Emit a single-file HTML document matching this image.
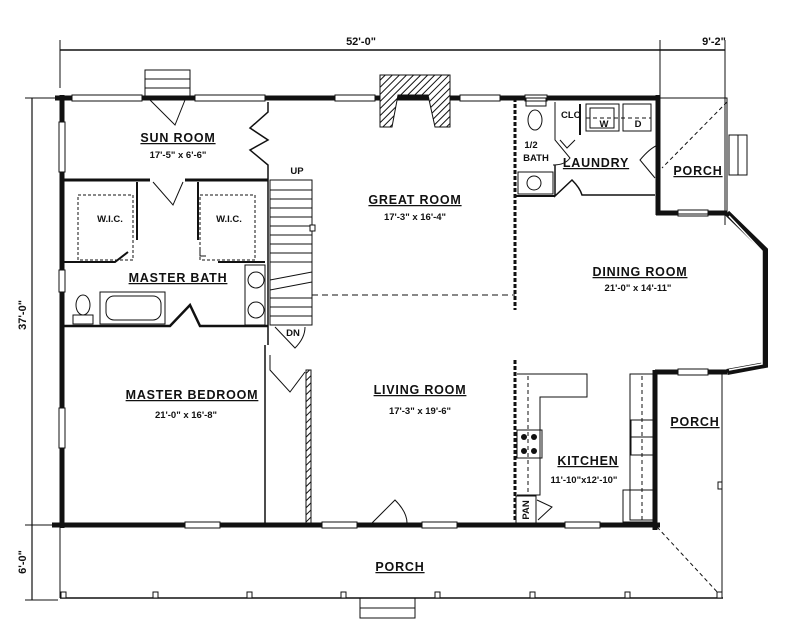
<!DOCTYPE html>
<html><head><meta charset="utf-8"><style>
html,body{margin:0;padding:0;background:#fff;width:787px;height:630px;overflow:hidden}
svg{display:block}
text{font-family:"Liberation Sans",sans-serif;fill:#111}
.t{font-size:12.5px;letter-spacing:0.8px;text-decoration:underline;font-weight:bold}
.d{font-size:9.5px;font-weight:bold}
.D{font-size:11px;font-weight:bold}
</style></head><body>
<svg width="787" height="630" viewBox="0 0 787 630" xmlns="http://www.w3.org/2000/svg">
<defs>
<pattern id="h" width="5" height="5" patternUnits="userSpaceOnUse" patternTransform="rotate(45)"><rect width="5" height="5" fill="#fff"/><line x1="0" y1="0" x2="0" y2="5" stroke="#111" stroke-width="2"/></pattern>
</defs>
<g stroke="#111" fill="none" stroke-width="1">
<line x1="60" y1="50" x2="725" y2="50" stroke-width="1.5"/>
<line x1="60" y1="40" x2="60" y2="88"/>
<line x1="660" y1="40" x2="660" y2="95"/>
<line x1="725" y1="40" x2="725" y2="225"/>
<line x1="32" y1="98" x2="32" y2="600" stroke-width="1.2"/>
<line x1="25" y1="98" x2="58" y2="98"/>
<line x1="25" y1="525" x2="55" y2="525"/>
<line x1="25" y1="600" x2="58" y2="600"/>
<g stroke-width="5">
<line x1="55" y1="98" x2="660" y2="98"/>
<line x1="62" y1="95" x2="62" y2="528"/>
<line x1="52" y1="525" x2="660" y2="525"/>
<line x1="658" y1="95" x2="658" y2="215"/>
<line x1="656" y1="213" x2="727" y2="213"/>
<line x1="655" y1="372" x2="727" y2="372"/>
<line x1="655" y1="370" x2="655" y2="530"/>
</g>
<g fill="#fff" stroke-width="1">
<rect x="72" y="95" width="70" height="6"/><rect x="195" y="95" width="70" height="6"/>
<rect x="335" y="95" width="40" height="6"/><rect x="460" y="95" width="40" height="6"/>
<rect x="525" y="95" width="22" height="6"/>
<rect x="59" y="122" width="6" height="50"/><rect x="59" y="270" width="6" height="22"/><rect x="59" y="408" width="6" height="40"/>
<rect x="185" y="522" width="35" height="6"/><rect x="322" y="522" width="35" height="6"/>
<rect x="422" y="522" width="35" height="6"/><rect x="565" y="522" width="35" height="6"/>
<rect x="678" y="210" width="30" height="6"/><rect x="678" y="369" width="30" height="6"/>
</g>
<polyline points="727,213 765,250 765,365 727,372" stroke-width="6"/>
<polyline points="729,216 762,251 762,364 729,370" stroke="#fff" stroke-width="1.5"/>
<rect x="658" y="98" width="69" height="116"/>
<line x1="727" y1="102" x2="662" y2="168" stroke-dasharray="4,3"/>
<rect x="729" y="135" width="18" height="40"/><line x1="738" y1="135" x2="738" y2="175"/>
<line x1="60" y1="525" x2="60" y2="598"/>
<line x1="60" y1="598" x2="723" y2="598" stroke-width="1.5"/>
<line x1="722" y1="372" x2="722" y2="598"/>
<line x1="657" y1="527" x2="720" y2="595" stroke-dasharray="4,3"/>
<g fill="#fff"><rect x="61" y="592" width="5" height="6"/><rect x="153" y="592" width="5" height="6"/><rect x="247" y="592" width="5" height="6"/><rect x="341" y="592" width="5" height="6"/><rect x="435" y="592" width="5" height="6"/><rect x="530" y="592" width="5" height="6"/><rect x="625" y="592" width="5" height="6"/><rect x="717" y="592" width="5" height="6"/><rect x="718" y="482" width="4" height="7"/></g>
<rect x="360" y="598" width="55" height="20"/><line x1="360" y1="608" x2="415" y2="608"/>
<rect x="145" y="70" width="45" height="27"/><line x1="145" y1="79" x2="190" y2="79"/><line x1="145" y1="88" x2="190" y2="88"/>
<path d="M380,75 H450 V127 H435 L428,95 H398 L392,127 H380 Z" fill="url(#h)"/>
<path d="M150,100 L175,125 L185,100" />
<path d="M268,102 V112 L250,128 L268,140 L250,150 L268,165 V345" stroke-width="1.5"/>
<line x1="265" y1="345" x2="265" y2="525" stroke-width="1.5"/>
<line x1="62" y1="180" x2="150" y2="180" stroke-width="3"/><line x1="185" y1="180" x2="268" y2="180" stroke-width="3"/>
<path d="M153,182 L173,205 L183,182"/>
<rect x="78" y="195" width="55" height="65" stroke-dasharray="3,2"/>
<rect x="200" y="195" width="55" height="65" stroke-dasharray="3,2"/>
<line x1="137" y1="182" x2="137" y2="240" stroke-width="2"/>
<line x1="198" y1="182" x2="198" y2="240" stroke-width="2"/>
<path d="M62,262 H115 L128,252" stroke-width="2"/>
<path d="M218,262 H265" stroke-width="2"/>
<path d="M200,250 V256 H206" />
<path d="M62,326 H170 L190,305 L200,326 H268" stroke-width="2.5"/>
<rect x="245" y="265" width="20" height="60"/>
<circle cx="256" cy="280" r="8"/><circle cx="256" cy="310" r="8"/>
<rect x="100" y="292" width="65" height="32"/><rect x="106" y="296" width="55" height="24" rx="8"/>
<ellipse cx="83" cy="305" rx="7" ry="10"/><rect x="73" y="315" width="20" height="9"/>
<rect x="270" y="180" width="42" height="145"/>
<g>
<line x1="270" y1="190" x2="312" y2="190"/><line x1="270" y1="199" x2="312" y2="199"/><line x1="270" y1="208" x2="312" y2="208"/><line x1="270" y1="217" x2="312" y2="217"/><line x1="270" y1="226" x2="312" y2="226"/><line x1="270" y1="235" x2="312" y2="235"/><line x1="270" y1="244" x2="312" y2="244"/><line x1="270" y1="253" x2="312" y2="253"/><line x1="270" y1="262" x2="312" y2="262"/><line x1="270" y1="280" x2="312" y2="272"/><line x1="270" y1="290" x2="312" y2="282"/><line x1="270" y1="298" x2="312" y2="298"/><line x1="270" y1="307" x2="312" y2="307"/><line x1="270" y1="316" x2="312" y2="316"/>
</g>
<rect x="310" y="225" width="5" height="6" fill="#fff"/>
<path d="M275,327 L295,348 Q305,338 305,327"/>
<line x1="312" y1="295" x2="515" y2="295" stroke-dasharray="6,4"/>
<path d="M270,355 V370 L290,392 L305,372"/>
<rect x="306" y="370" width="5" height="153" fill="url(#h)"/>
<path d="M372,523 L395,500 Q407,512 407,523"/>
<line x1="515" y1="98" x2="515" y2="310" stroke-width="3" stroke-dasharray="4,2"/>
<rect x="526" y="98" width="20" height="8"/>
<ellipse cx="535" cy="120" rx="7" ry="10"/>
<rect x="518" y="172" width="35" height="22"/><circle cx="534" cy="183" r="7"/>
<line x1="515" y1="196" x2="555" y2="196" stroke-width="2"/>
<path d="M555,102 V140 L570,158 Q565,165 553,165" />
<path d="M555,165 V196 L572,180 Q580,188 582,195 H655" stroke-width="1.5"/>
<path d="M560,140 L567,148 L575,140"/>
<rect x="586" y="104" width="33" height="27"/><rect x="590" y="108" width="24" height="20"/>
<rect x="623" y="104" width="28" height="27"/>
<line x1="586" y1="118" x2="651" y2="118" stroke-dasharray="4,3"/>
<line x1="580" y1="104" x2="580" y2="135" stroke-width="2"/>
<path d="M655,178 L640,160 Q650,148 658,145"/>
<line x1="515" y1="360" x2="515" y2="522" stroke-width="3" stroke-dasharray="4,2"/>
<path d="M517,374 H587 V397 H540 V495 H517"/>
<line x1="528" y1="376" x2="528" y2="495" stroke-dasharray="4,3"/>
<rect x="517" y="430" width="25" height="28"/>
<g fill="#111" stroke="none"><circle cx="524" cy="437" r="3"/><circle cx="534" cy="437" r="3"/><circle cx="524" cy="451" r="3"/><circle cx="534" cy="451" r="3"/></g>
<rect x="516" y="496" width="20" height="27"/>
<path d="M537,500 L552,507 L538,520"/>
<path d="M653,374 H630 V520 H653"/>
<line x1="642" y1="376" x2="642" y2="520" stroke-dasharray="4,3"/>
<rect x="631" y="420" width="22" height="35"/><line x1="631" y1="437" x2="653" y2="437"/>
<rect x="623" y="490" width="30" height="32"/>
</g>
<text x="361" y="45" class="D" text-anchor="middle">52'-0"</text>
<text x="714" y="45" class="D" text-anchor="middle">9'-2"</text>
<text transform="translate(26,315) rotate(-90)" class="D" text-anchor="middle">37'-0"</text>
<text transform="translate(26,562) rotate(-90)" class="D" text-anchor="middle">6'-0"</text>
<text x="178" y="142" class="t" text-anchor="middle">SUN ROOM</text>
<text x="178" y="158" class="d" text-anchor="middle">17'-5" x 6'-6"</text>
<text x="297" y="174" class="d" text-anchor="middle">UP</text>
<text x="415" y="204" class="t" text-anchor="middle">GREAT ROOM</text>
<text x="415" y="220" class="d" text-anchor="middle">17'-3" x 16'-4"</text>
<text x="110" y="222" class="d" text-anchor="middle">W.I.C.</text>
<text x="229" y="222" class="d" text-anchor="middle">W.I.C.</text>
<text x="178" y="282" class="t" text-anchor="middle">MASTER BATH</text>
<text x="293" y="336" class="d" text-anchor="middle">DN</text>
<text x="531" y="148" class="d" text-anchor="middle">1/2</text>
<text x="536" y="161" class="d" text-anchor="middle">BATH</text>
<text x="571" y="118" class="d" text-anchor="middle">CLO</text>
<text x="604" y="127" class="d" text-anchor="middle">W</text>
<text x="638" y="127" class="d" text-anchor="middle">D</text>
<text x="596" y="167" class="t" text-anchor="middle">LAUNDRY</text>
<text x="698" y="175" class="t" text-anchor="middle">PORCH</text>
<text x="640" y="276" class="t" text-anchor="middle">DINING ROOM</text>
<text x="638" y="291" class="d" text-anchor="middle">21'-0" x 14'-11"</text>
<text x="192" y="399" class="t" text-anchor="middle">MASTER BEDROOM</text>
<text x="186" y="418" class="d" text-anchor="middle">21'-0" x 16'-8"</text>
<text x="420" y="394" class="t" text-anchor="middle">LIVING ROOM</text>
<text x="420" y="414" class="d" text-anchor="middle">17'-3" x 19'-6"</text>
<text x="588" y="465" class="t" text-anchor="middle">KITCHEN</text>
<text x="584" y="483" class="d" text-anchor="middle">11'-10"x12'-10"</text>
<text x="695" y="426" class="t" text-anchor="middle">PORCH</text>
<text x="400" y="571" class="t" text-anchor="middle">PORCH</text>
<text transform="translate(529,510) rotate(-90)" class="d" text-anchor="middle" font-size="8">PAN</text>
</svg>
</body></html>
